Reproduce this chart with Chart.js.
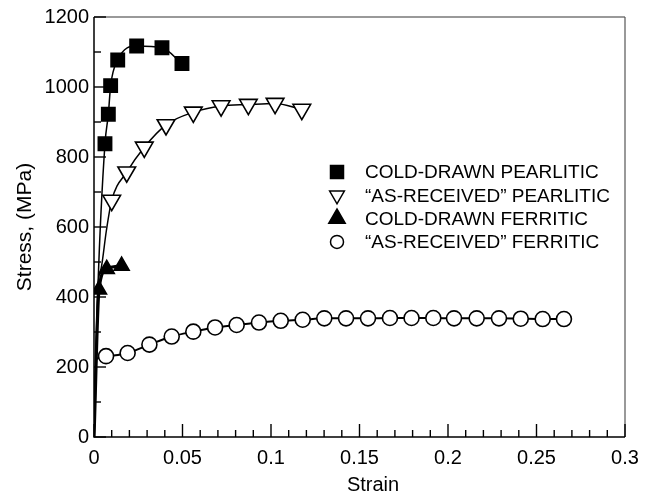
<!DOCTYPE html>
<html>
<head>
<meta charset="utf-8">
<script src="https://cdn.jsdelivr.net/npm/chart.js@4.4.0/dist/chart.umd.min.js"></script>
<style>
  html, body { margin: 0; padding: 0; background: #fff; }
  #wrap { width: 655px; height: 496px; }
</style>
</head>
<body>
<div id="wrap"><canvas id="chart" width="655" height="496"></canvas></div>
<script>
// Series data (strain, stress MPa)
const seriesLabels = ['COLD-DRAWN PEARLITIC', '\u201CAS-RECEIVED\u201D PEARLITIC', 'COLD-DRAWN FERRITIC', '\u201CAS-RECEIVED\u201D FERRITIC'];

// cold-drawn pearlitic (squares)
const cdpStrain = [0.0062, 0.0081, 0.0094, 0.0134, 0.0241, 0.0384, 0.0497];
const cdpStress = [838, 922, 1004, 1077, 1117, 1112, 1067];
// as-received pearlitic (open down triangles)
const arpStrain = [0.0100, 0.0185, 0.0284, 0.0407, 0.0561, 0.0718, 0.0872, 0.1023, 0.1174];
const arpStress = [676, 757, 828, 892, 928, 946, 950, 953, 936];
// cold-drawn ferritic (filled triangles)
const cdfStrain = [0.0028, 0.0072, 0.0156];
const cdfStress = [421, 480, 489];
// as-received ferritic (open circles)
const arfStrain = [0.0068, 0.0190, 0.0313, 0.0439, 0.0561, 0.0684, 0.0806, 0.0932, 0.1055, 0.1179, 0.1301, 0.1424,
                   0.1548, 0.1672, 0.1794, 0.1917, 0.2034, 0.2162, 0.2288, 0.2411, 0.2535, 0.2655];
const arfStress = [231, 240, 264, 287, 301, 313, 320, 327, 332, 335, 339, 339,
                   339, 340, 340, 340, 339, 339, 339, 338, 337, 337];

// elastic start of the fitted curves (no markers)
const cdpCurveStrain = [0, 0.0022];
const cdpCurveStress = [0, 425];
const arpCurveStrain = [0, 0.0022, 0.0041, 0.0070];
const arpCurveStress = [0, 425, 483, 590];
const cdfCurveStrain = [0];
const cdfCurveStress = [0];
const arfCurveStrain = [0, 0.0015];
const arfCurveStress = [0, 223];

const xTickLabels = ['0', '0.05', '0.1', '0.15', '0.2', '0.25', '0.3'];
const yTickLabels = ['0', '200', '400', '600', '800', '1000', '1200'];
const xMinorStep = 0.01;
const yMinorStep = 100;
const xTitle = 'Strain';
const yTitle = 'Stress, (MPa)';

const FONT = "'Liberation Sans', Arial, Helvetica, sans-serif";

function pts(xs, ys) { return xs.map((x, i) => ({ x: x, y: ys[i] })); }

function curveSet(cx, cy, mx, my, style) {
    const data = pts(cx, cy).concat(pts(mx, my));
    const n = cx.length;
    return Object.assign({
        data: data,
        showLine: true,
        borderColor: '#000',
        pointBorderColor: '#000',
        pointBorderWidth: 1.6,
        cubicInterpolationMode: 'monotone',
        pointRadius: ctx => ctx.dataIndex < n ? 0 : style.r,
    }, style.opts);
}

const datasets = [
    curveSet(arfCurveStrain, arfCurveStress, arfStrain, arfStress, { r: 7.5, opts: { label: seriesLabels[3], borderWidth: 2, pointStyle: 'circle', pointBackgroundColor: '#fff' } }),
    curveSet(cdfCurveStrain, cdfCurveStress, cdfStrain, cdfStress, { r: 8.7, opts: { label: seriesLabels[2], borderWidth: 3.2, pointStyle: 'triangle', pointBackgroundColor: '#000' } }),
    curveSet(arpCurveStrain, arpCurveStress, arpStrain, arpStress, { r: 10.2, opts: { label: seriesLabels[1], borderWidth: 1.5, pointStyle: 'triangle', pointRotation: 180, pointBackgroundColor: '#fff' } }),
    curveSet(cdpCurveStrain, cdpCurveStress, cdpStrain, cdpStress, { r: 9.4, opts: { label: seriesLabels[0], borderWidth: 1.5, pointStyle: 'rect', pointBackgroundColor: '#000' } }),
];

// frame, inside tick marks and the x title
const frameTicks = {
    id: 'frameTicks',
    afterDraw(chart) {
        const ctx = chart.ctx;
        const a = chart.chartArea;
        const xs = chart.scales.x;
        const ys = chart.scales.y;
        ctx.save();
        // top (grey) and right edges
        ctx.strokeStyle = '#999';
        ctx.lineWidth = 2;
        ctx.beginPath();
        ctx.moveTo(a.left, a.top);
        ctx.lineTo(a.right, a.top);
        ctx.stroke();
        ctx.strokeStyle = '#555';
        ctx.lineWidth = 1.2;
        ctx.beginPath();
        ctx.moveTo(a.right, a.top);
        ctx.lineTo(a.right, a.bottom);
        ctx.stroke();
        // left and bottom axes
        ctx.strokeStyle = '#000';
        ctx.lineWidth = 1.5;
        ctx.beginPath();
        ctx.moveTo(a.left, a.top);
        ctx.lineTo(a.left, a.bottom);
        ctx.lineTo(a.right, a.bottom);
        ctx.stroke();
        // ticks pointing into the plot
        ctx.lineWidth = 1.4;
        ctx.strokeStyle = '#000';
        const nx = Math.round((xs.max - xs.min) / xMinorStep);
        for (let i = 0; i <= nx; i++) {
            const px = xs.left + (xs.right - xs.left) * i / nx;
            const len = i % 5 === 0 ? 13 : 7;
            ctx.beginPath();
            ctx.moveTo(px, a.bottom);
            ctx.lineTo(px, a.bottom - len);
            ctx.stroke();
        }
        const ny = Math.round((ys.max - ys.min) / yMinorStep);
        for (let i = 0; i <= ny; i++) {
            const py = ys.bottom - (ys.bottom - ys.top) * i / ny;
            const len = i % 2 === 0 ? 12 : 7;
            ctx.beginPath();
            ctx.moveTo(a.left, py);
            ctx.lineTo(a.left + len, py);
            ctx.stroke();
        }
        // x title sits a little right of centre in the original
        ctx.fillStyle = '#000';
        ctx.font = '20px ' + FONT;
        ctx.textAlign = 'center';
        ctx.textBaseline = 'alphabetic';
        ctx.fillText(xTitle, 373, 491);
        ctx.restore();
    }
};

// legend in the plot area, no frame
const innerLegend = {
    id: 'innerLegend',
    afterDraw(chart) {
        const ctx = chart.ctx;
        const rows = [
            { shape: 'square', fill: '#000', r: 6.5 },
            { shape: 'down', fill: '#fff', r: 8.5 },
            { shape: 'up', fill: '#000', r: 9.5 },
            { shape: 'circle', fill: '#fff', r: 6.5 },
        ];
        const sx = 337, tx = 365, y0 = 172, dy = 23.3;
        ctx.save();
        ctx.font = '19px ' + FONT;
        ctx.textBaseline = 'middle';
        ctx.fillStyle = '#000';
        rows.forEach((row, i) => {
            const cy = y0 + i * dy;
            ctx.beginPath();
            if (row.shape === 'square') {
                ctx.rect(sx - row.r, cy - row.r, row.r * 2, row.r * 2);
            } else if (row.shape === 'circle') {
                ctx.arc(sx, cy, row.r, 0, Math.PI * 2);
            } else {
                const s = row.shape === 'up' ? -1 : 1;
                const h = row.r * 0.866;
                ctx.moveTo(sx - h, cy - s * row.r * 0.5);
                ctx.lineTo(sx + h, cy - s * row.r * 0.5);
                ctx.lineTo(sx, cy + s * row.r);
                ctx.closePath();
            }
            ctx.fillStyle = row.fill;
            ctx.fill();
            ctx.strokeStyle = '#000';
            ctx.lineWidth = 1.5;
            ctx.stroke();
            ctx.fillStyle = '#000';
            ctx.fillText(seriesLabels[i], tx, cy + 1);
        });
        ctx.restore();
    }
};

new Chart(document.getElementById('chart'), {
    type: 'scatter',
    data: { datasets: datasets },
    options: {
        responsive: false,
        animation: false,
        layout: { padding: { top: 14, right: 30, left: 0, bottom: 0 } },
        plugins: { legend: { display: false }, tooltip: { enabled: false } },
        scales: {
            x: {
                type: 'linear', min: 0, max: 0.3,
                grid: { display: false, drawTicks: false },
                border: { display: false },
                afterFit: s => { s.height = 59; },
                afterBuildTicks: s => { s.ticks = xTickLabels.map(t => ({ value: parseFloat(t) })); },
                ticks: { color: '#000', font: { family: FONT, size: 20 }, padding: 9, maxRotation: 0,
                         callback: (v, i) => xTickLabels[i] },
                title: { display: false }
            },
            y: {
                type: 'linear', min: 0, max: 1200,
                grid: { display: false, drawTicks: false },
                border: { display: false },
                afterFit: s => { s.width = 94; },
                afterBuildTicks: s => { s.ticks = yTickLabels.map(t => ({ value: parseFloat(t) })); },
                ticks: { color: '#000', font: { family: FONT, size: 20 }, padding: 5,
                         callback: (v, i) => yTickLabels[i] },
                title: { display: true, text: yTitle, color: '#000', font: { family: FONT, size: 21 }, padding: { top: 13, bottom: 0 } }
            }
        }
    },
    plugins: [frameTicks, innerLegend]
});
</script>
</body>
</html>
